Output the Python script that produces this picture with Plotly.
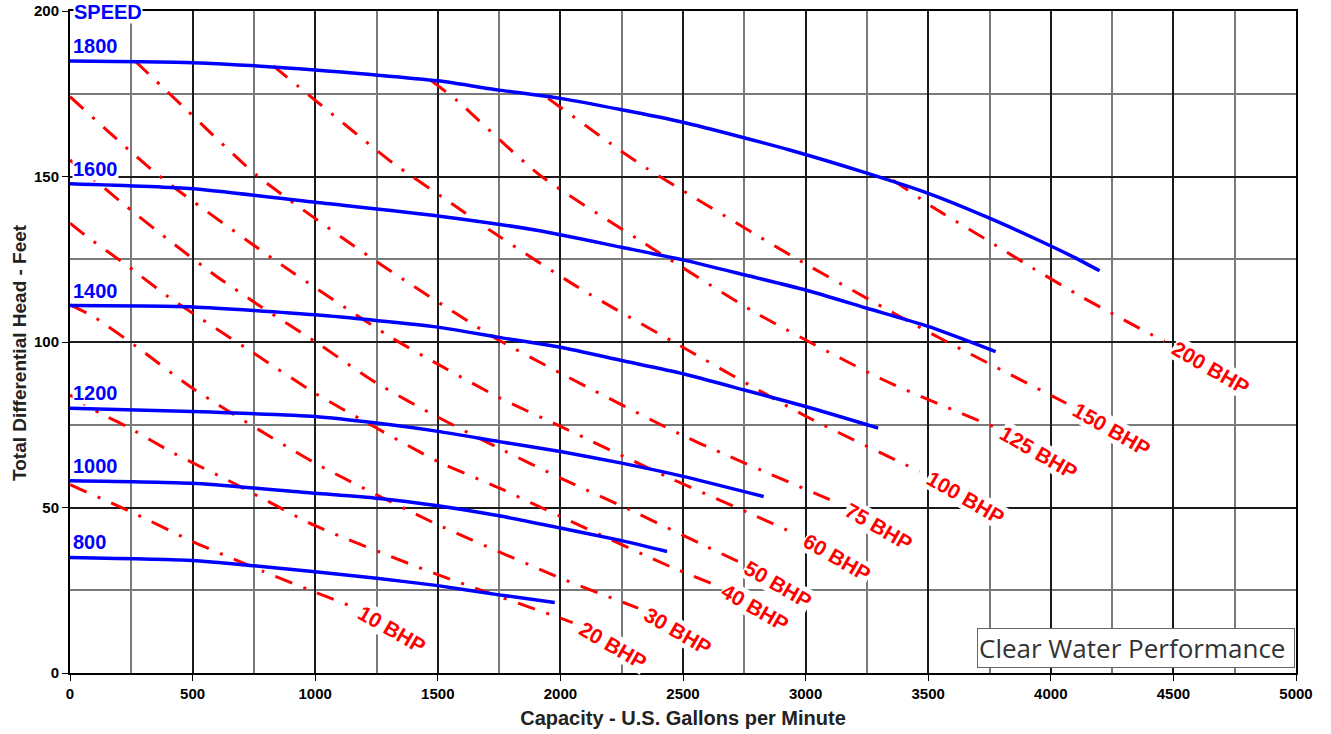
import math
import plotly.graph_objects as go

# ---------------- data ----------------
# Pump speed curves (RPM): capacity (gpm) vs total differential head (ft)
speed_names = ["1800", "1600", "1400", "1200", "1000", "800"]
speed_x = {
    "1800": [0, 500, 1000, 1500, 1750, 2000, 2500, 2935, 3250, 3500, 3750, 4000, 4100, 4199],
    "1600": [0, 500, 1000, 1500, 1916, 2250, 2500, 2750, 3000, 3250, 3500, 3775],
    "1400": [0, 500, 1000, 1500, 1750, 2000, 2250, 2500, 2750, 3000, 3296],
    "1200": [0, 500, 1000, 1250, 1500, 1750, 2000, 2250, 2500, 2829],
    "1000": [0, 500, 1000, 1250, 1500, 1750, 2000, 2250, 2435],
    "800":  [0, 500, 750, 1000, 1250, 1500, 1750, 1977],
}
speed_y = {
    "1800": [184.9, 184.4, 182.2, 178.9, 176.1, 173.6, 166.4, 158.0, 151.0, 144.9, 137.4, 129.0, 125.4, 121.5],
    "1600": [147.8, 146.3, 142.2, 138.1, 133.6, 128.6, 124.8, 120.3, 115.7, 110.2, 104.7, 97.1],
    "1400": [111.0, 110.6, 108.2, 104.5, 101.4, 98.4, 94.4, 90.4, 85.5, 80.5, 74.0],
    "1200": [80.0, 79.0, 77.5, 75.5, 73.0, 69.9, 66.9, 63.4, 59.4, 53.3],
    "1000": [58.1, 57.3, 54.3, 52.8, 50.5, 47.5, 43.8, 40.0, 36.7],
    "800":  [34.9, 34.0, 32.4, 30.6, 28.6, 26.4, 23.6, 21.3],
}

# Brake horsepower lines
bhp_names = ["10 BHP", "20 BHP", "30 BHP", "40 BHP", "50 BHP", "60 BHP",
             "75 BHP", "100 BHP", "125 BHP", "150 BHP", "200 BHP"]
bhp_x = {
    "10 BHP":  [0, 260, 500, 788, 1000, 1150],
    "20 BHP":  [0, 122, 231, 423, 666, 1000, 1500, 2000, 2050],
    "30 BHP":  [0, 95, 271, 500, 1000, 1500, 2000, 2317],
    "40 BHP":  [0, 61, 238, 400, 750, 1000, 1250, 1500, 1750, 2000, 2446, 2629],
    "50 BHP":  [0, 122, 231, 394, 598, 768, 1000, 1250, 1500, 1750, 2000, 2283, 2568, 2724],
    "60 BHP":  [0, 360, 863, 1305, 1500, 1750, 2000, 2446, 2786, 2964],
    "75 BHP":  [265, 476, 761, 1250, 1725, 2000, 2509, 3133],
    "100 BHP": [829, 999, 1318, 1536, 1712, 2079, 2459, 3003, 3465],
    "125 BHP": [1474, 1576, 1916, 2364, 2799, 3316, 3764],
    "150 BHP": [1950, 2242, 2351, 2948, 3384, 3601, 4063],
    "200 BHP": [3357, 3526, 3751, 3927, 4124, 4464],
}
bhp_y = {
    "10 BHP":  [56.9, 48.3, 39.7, 30.7, 24.4, 20.1],
    "20 BHP":  [84.0, 78.5, 74.5, 66.4, 57.4, 44.5, 29.7, 16.6, 15.2],
    "30 BHP":  [111.2, 107.7, 98.6, 86.0, 63.4, 44.8, 28.7, 19.6],
    "40 BHP":  [135.9, 132.3, 122.8, 113.7, 96.6, 84.5, 74.0, 63.9, 55.9, 47.3, 32.2, 26.7],
    "50 BHP":  [155.0, 147.6, 140.9, 131.3, 119.8, 111.2, 100.1, 87.6, 77.3, 67.9, 58.9, 49.3, 39.2, 33.7],
    "60 BHP":  [174.1, 150.4, 123.3, 101.6, 93.3, 83.2, 74.5, 58.9, 47.8, 41.8],
    "75 BHP":  [184.9, 170.1, 150.4, 124.3, 101.6, 90.6, 71.4, 51.3],
    "100 BHP": [183.4, 173.1, 154.0, 142.9, 133.8, 116.2, 100.1, 77.5, 60.9],
    "125 BHP": [178.9, 173.1, 150.4, 128.8, 108.7, 88.6, 74.5],
    "150 BHP": [173.6, 158.0, 152.5, 125.8, 107.7, 99.1, 81.5],
    "200 BHP": [148.9, 140.4, 130.3, 122.3, 113.7, 100.1],
}

x_ticks = [0, 500, 1000, 1500, 2000, 2500, 3000, 3500, 4000, 4500, 5000]
y_ticks = [0, 50, 100, 150, 200]

# ---------------- styles ----------------
BLUE = "#0000ff"
RED = "#ff0000"
FONT = "Liberation Sans, Arial, sans-serif"

fig = go.Figure()

for name in bhp_names:
    fig.add_trace(go.Scatter(
        x=bhp_x[name], y=bhp_y[name], mode="lines",
        line=dict(color=RED, width=3, dash="18px,12px,3px,12px", shape="spline", smoothing=0.6),
        hoverinfo="skip", showlegend=False))

for name in speed_names:
    fig.add_trace(go.Scatter(
        x=speed_x[name], y=speed_y[name], mode="lines",
        line=dict(color=BLUE, width=3.5, shape="spline", smoothing=0.6),
        hoverinfo="skip", showlegend=False))

annotations = []
# speed labels above each curve start
for name in speed_names:
    annotations.append(dict(
        x=speed_x[name][0], y=speed_y[name][0], xref="x", yref="y",
        text="<b>%s</b>" % name, showarrow=False, xanchor="left", yanchor="bottom",
        xshift=2, yshift=3, bgcolor="white", borderpad=0,
        font=dict(family=FONT, size=20, color=BLUE)))
annotations.append(dict(
    x=0, y=200, xref="x", yref="y", text="<b>SPEED</b>", showarrow=False,
    xanchor="left", yanchor="middle", xshift=3, yshift=-1,
    bgcolor="white", borderpad=0,
    font=dict(family=FONT, size=20, color=BLUE)))

# BHP labels at end of each line, rotated
ang = math.radians(30)
for name in bhp_names:
    half = 0.29 * 21 * len(name) + 10
    annotations.append(dict(
        x=bhp_x[name][-1], y=bhp_y[name][-1], xref="x", yref="y",
        text="<b>%s</b>" % name, showarrow=False, textangle=30,
        xanchor="center", yanchor="middle",
        xshift=half * math.cos(ang), yshift=-half * math.sin(ang),
        bgcolor="white", borderpad=0,
        font=dict(family=FONT, size=21, color=RED)))

annotations.append(dict(
    x=0.999, y=0.008, xref="paper", yref="paper", text="Clear Water Performance",
    showarrow=False, xanchor="right", yanchor="bottom", width=314, align="left",
    bgcolor="white", bordercolor="#666666", borderwidth=1, borderpad=1,
    font=dict(family="Open Sans, Noto Sans, sans-serif", size=26, color="#333333")))

# y-axis title as an annotation so its vertical placement can follow the reference
annotations.append(dict(
    x=0, y=0.5, xref="paper", yref="paper", text="<b>Total Differential Head - Feet</b>",
    showarrow=False, textangle=-90, xanchor="center", yanchor="middle",
    xshift=-51, yshift=-11,
    font=dict(family=FONT, size=19, color="#222222")))

fig.update_layout(
    width=1331, height=734,
    margin=dict(l=70, r=35, t=11, b=61, autoexpand=False),
    paper_bgcolor="white", plot_bgcolor="white",
    annotations=annotations,
    showlegend=False,
)

fig.update_xaxes(
    range=[0, 5000], tickvals=x_ticks, ticktext=["<b>%d</b>" % v for v in x_ticks],
    showgrid=True, gridcolor="#1a1a1a", gridwidth=2,
    minor=dict(dtick=250, tick0=0, showgrid=True, gridcolor="#7a7a7a", gridwidth=1.5),
    showline=True, linecolor="#000000", linewidth=2, mirror=True,
    ticks="outside", ticklen=6, tickcolor="#000000", tickwidth=1,
    zeroline=False, automargin=False,
    tickfont=dict(family=FONT, size=15, color="#000000"),
    title=dict(text="<b>Capacity - U.S. Gallons per Minute</b>", standoff=10,
               font=dict(family=FONT, size=20, color="#222222")),
)
fig.update_yaxes(
    range=[0, 200], tickvals=y_ticks, ticktext=["<b>%d</b>" % v for v in y_ticks],
    showgrid=True, gridcolor="#1a1a1a", gridwidth=2,
    minor=dict(dtick=25, tick0=0, showgrid=True, gridcolor="#7a7a7a", gridwidth=1.5),
    showline=True, linecolor="#000000", linewidth=2, mirror=True,
    ticks="outside", ticklen=6, tickcolor="#000000", tickwidth=1,
    zeroline=False, automargin=False,
    tickfont=dict(family=FONT, size=15, color="#000000"),
)

# remove the default 8px page margin so the figure fills the window from its corner
fig.write_html("out.html", config={"displayModeBar": False},
               post_script="document.body.style.margin='0';")
